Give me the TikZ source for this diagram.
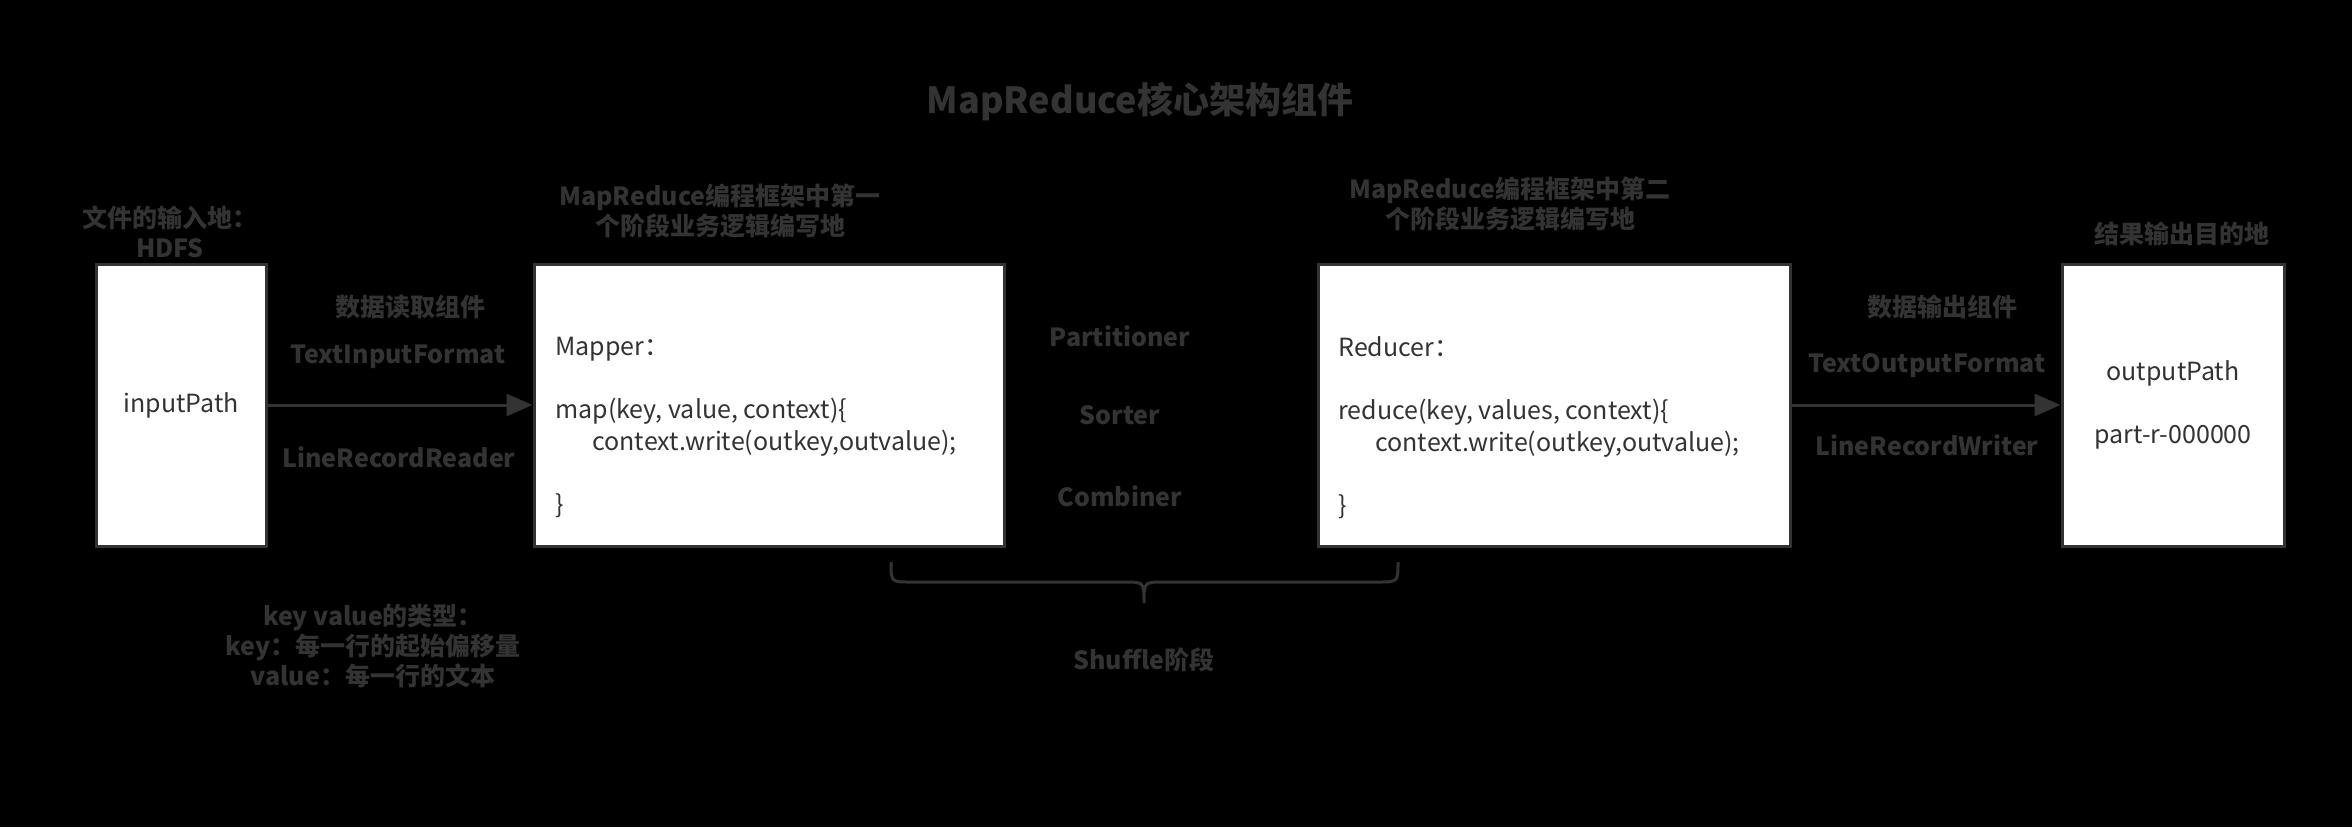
\documentclass[tikz,border=0pt]{standalone}
\usepackage{fontspec}
\setmainfont{Noto Sans CJK SC}
\usetikzlibrary{arrows.meta}
\definecolor{ink}{HTML}{333333}

\begin{document}
\begin{tikzpicture}[x=0.5pt, y=-0.5pt,
  every node/.style={text=ink, font=\fontsize{12.5}{15.75}\selectfont},
  stage/.style={draw=ink, line width=1.5pt, fill=white, inner sep=0pt,
                minimum height=141pt, align=center},
  lbl/.style={font=\fontsize{12.5}{15}\selectfont\bfseries, align=center},
  code/.style={anchor=west, align=left, inner sep=0pt},
  flow/.style={draw=ink, line width=1.5pt, -{Triangle[length=13pt, width=11pt]}},
  brace/.style={draw=ink, line width=1.5pt}
]
  % background, same size as the picture
  \fill[black] (0,0) rectangle (2352,827);

  \node[lbl, font=\fontsize{18}{22}\selectfont\bfseries] (title) at (1140,102)
    {MapReduce核心架构组件};

  % the four boxes
  \node[stage, minimum width=85pt] (inp) at (181,405) {inputPath};
  \node[stage, minimum width=235pt] (mapper) at (769,405) {};
  \node[stage, minimum width=236pt] (reducer) at (1554,405) {};
  \node[stage, minimum width=111pt] (outp) at (2173,405)
    {outputPath\\[15.75pt]part-r-000000};

  \node[code] (mapcode) at (555,427.5)
    {Mapper：\\[15.75pt]map(key, value, context)\{\\\hspace*{18.5pt}context.write(outkey,outvalue);\\[15.75pt]\}};
  \node[code] (redcode) at (1338,427.5)
    {Reducer：\\[15.75pt]reduce(key, values, context)\{\\\hspace*{18.5pt}context.write(outkey,outvalue);\\[15.75pt]\}};

  % notes above the boxes
  \node[lbl] (srcnote) at (170,232) {文件的输入地：\\HDFS};
  \node[lbl] (mapnote) at (720,211) {MapReduce编程框架中第一\\个阶段业务逻辑编写地};
  \node[lbl] (rednote) at (1510,204) {MapReduce编程框架中第二\\个阶段业务逻辑编写地};
  \node[lbl] (dstnote) at (2182,234) {结果输出目的地};

  % reading and writing
  \draw[flow] (inp) -- (mapper);
  \draw[flow] (reducer) -- (outp);
  \node[lbl] (rdname) at (410,307) {数据读取组件};
  \node[lbl] (rdfmt) at (398,357) {TextInputFormat};
  \node[lbl] (rdrec) at (399,457) {LineRecordReader};
  \node[lbl] (wrname) at (1942,307) {数据输出组件};
  \node[lbl] (wrfmt) at (1927,366) {TextOutputFormat};
  \node[lbl] (wrrec) at (1927,445) {LineRecordWriter};

  % shuffle
  \node[lbl] (part) at (1120,336) {Partitioner};
  \node[lbl] (sort) at (1120,415) {Sorter};
  \node[lbl] (comb) at (1120,496) {Combiner};
  \draw[brace] (891,562) .. controls (891,582) .. (911,582) -- (1124,582)
    .. controls (1144,582) .. (1144,603) .. controls (1144,582) .. (1164,582)
    -- (1378,582) .. controls (1398,582) .. (1398,562);
  \node[lbl] (shuf) at (1144,660) {Shuffle阶段};

  \node[lbl] (kvnote) at (373,646)
    {key value的类型：\\key：每一行的起始偏移量\\value：每一行的文本};
\end{tikzpicture}
\end{document}
